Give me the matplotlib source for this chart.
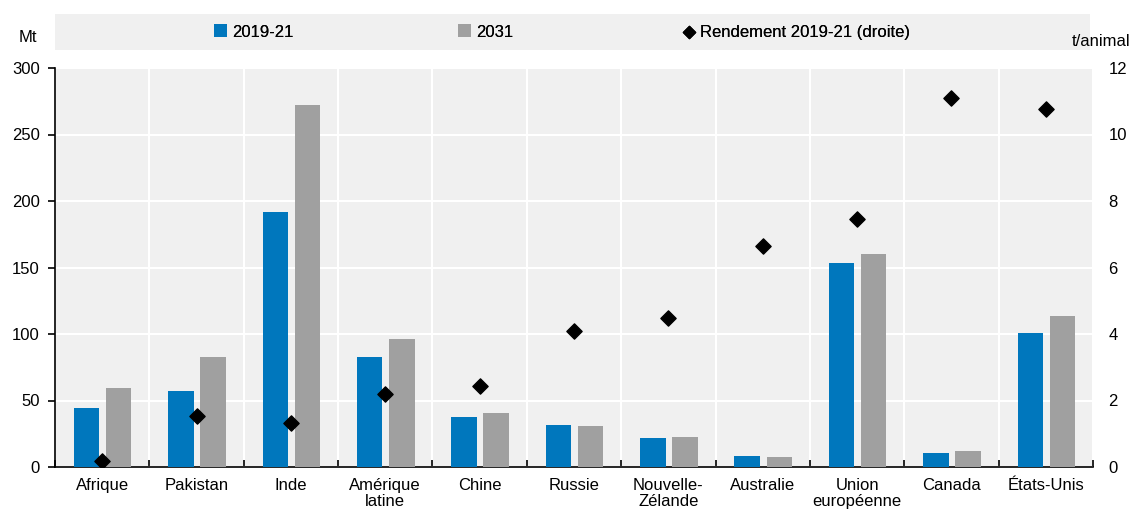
import numpy as np
import matplotlib.pyplot as plt
from matplotlib.patches import Rectangle

categories = ['Afrique', 'Pakistan', 'Inde', 'Amérique\nlatine', 'Chine', 'Russie',
              'Nouvelle-\nZélande', 'Australie', 'Union\neuropéenne', 'Canada', 'États-Unis']
prod_2019 = [44.5, 57.5, 191.5, 82.5, 37.5, 31.5, 22.0, 8.5, 153.5, 10.5, 100.5]
prod_2031 = [59.5, 83.0, 272.0, 96.0, 40.5, 31.0, 22.5, 7.5, 160.5, 12.0, 113.5]
rendement = [0.18, 1.53, 1.33, 2.2, 2.43, 4.1, 4.48, 6.65, 7.47, 11.1, 10.77]

plt.rcParams['font.family'] = ['Liberation Sans Narrow', 'Liberation Sans', 'DejaVu Sans']
plt.rcParams['font.size'] = 12

blue = '#0077bd'
grey = '#a0a0a0'
bg = '#f0f0f0'

fig = plt.figure(figsize=(11.32, 5.16), dpi=100)
ax = fig.add_axes([55 / 1132, 1 - 467 / 516, (1093 - 55) / 1132, (467 - 68) / 516])
ax.set_facecolor(bg)

x = np.arange(len(categories))
ax.bar(x - 0.165, prod_2019, width=0.27, color=blue, label='2019-21', zorder=3)
ax.bar(x + 0.175, prod_2031, width=0.27, color=grey, label='2031', zorder=3)

ax.set_xlim(-0.5, len(categories) - 0.5)
ax.set_ylim(0, 300)
ax.set_yticks(np.arange(0, 301, 50))
ax.set_xticks(x)
ax.set_xticklabels(categories, linespacing=1.1)
ax.tick_params(axis='x', length=0, pad=8)
ax.set_xticks(np.arange(-0.5, len(categories), 1), minor=True)
ax.tick_params(axis='x', which='minor', direction='in', length=5, width=1.2)
ax.tick_params(axis='y', direction='out', length=5, width=1.2, pad=6)
ax.grid(axis='y', color='white', linewidth=1.5, zorder=0)
ax.grid(axis='x', which='minor', color='white', linewidth=1.5, zorder=0)
ax.set_axisbelow(True)
for s in ['top', 'right']:
    ax.spines[s].set_visible(False)
ax.spines['left'].set_linewidth(1.2)
ax.spines['bottom'].set_linewidth(1.2)

ax2 = ax.twinx()
ax2.scatter(x, rendement, marker='D', s=60, color='black', zorder=4,
            label='Rendement 2019-21 (droite)')
ax2.set_ylim(0, 12)
ax2.set_yticks(np.arange(0, 13, 2))
ax2.tick_params(axis='y', length=0, pad=11)
for s in ax2.spines.values():
    s.set_visible(False)

fig.text(28 / 1132, 1 - 38 / 516, 'Mt', ha='center', va='center')
fig.text(1130 / 1132, 1 - 42 / 516, 't/animal', ha='right', va='center')

fig.patches.append(Rectangle((55 / 1132, 1 - 50 / 516), (1090 - 55) / 1132, 36 / 516,
                             transform=fig.transFigure, facecolor=bg, edgecolor='none', zorder=0))
h1, l1 = ax.get_legend_handles_labels()
h2, l2 = ax2.get_legend_handles_labels()
handles = h1 + h2
labels = l1 + l2
# one small legend per entry, placed where the reference has them
for h, l, xpos in zip(handles, labels, [214, 458, 682]):
    leg = fig.legend([h], [l], loc='center left', bbox_to_anchor=(xpos / 1132, 1 - 32 / 516),
                     frameon=False, handlelength=0.8, handleheight=0.8, handletextpad=0.3,
                     markerscale=0.8, borderpad=0, borderaxespad=0)
    fig.add_artist(leg)

fig.savefig('out.png', dpi=100)
